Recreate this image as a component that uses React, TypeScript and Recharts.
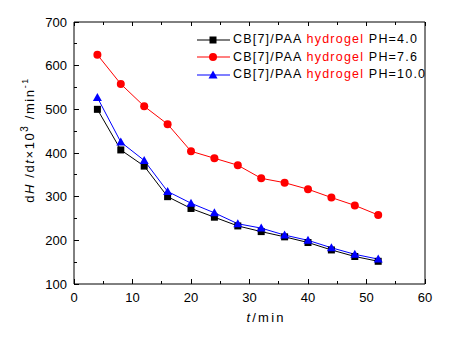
import { LineChart, Line, XAxis, YAxis, Label } from 'recharts';

const times = [4, 8, 12, 16, 20, 24, 28, 32, 36, 40, 44, 48, 52];
const ph40 = [500, 407, 370, 300, 273, 253, 233, 220, 208, 195, 178, 163, 152];
const ph76 = [625, 558, 507, 466, 404, 388, 372, 342, 332, 317, 298, 280, 258];
const ph100 = [527, 425, 383, 312, 285, 263, 238, 228, 212, 200, 183, 168, 157];

const xTicks = [0, 5, 10, 15, 20, 25, 30, 35, 40, 45, 50, 55, 60];
const yTicks = [100, 150, 200, 250, 300, 350, 400, 450, 500, 550, 600, 650, 700];

const data = times.map((t, i) => ({ t, ph40: ph40[i], ph76: ph76[i], ph100: ph100[i] }));

const series = [
  { key: 'ph40', color: '#000000', shape: 'square', ph: 'PH=4.0' },
  { key: 'ph76', color: '#ff0000', shape: 'circle', ph: 'PH=7.6' },
  { key: 'ph100', color: '#0000ff', shape: 'triangle', ph: 'PH=10.0' },
];

const tickFont = '"Liberation Sans", Arial, sans-serif';

function Marker({ cx, cy, shape, color }: any) {
  if (cx == null || cy == null) return null;
  if (shape === 'square') return <rect x={cx - 3.5} y={cy - 3.5} width={7} height={7} fill={color} />;
  if (shape === 'circle') return <circle cx={cx} cy={cy} r={4} fill={color} />;
  return <polygon points={`${cx},${cy - 4.5} ${cx - 4.5},${cy + 3.5} ${cx + 4.5},${cy + 3.5}`} fill={color} />;
}

function BottomTick({ x, y, payload }: any) {
  const major = payload.value % 10 === 0;
  return (
    <g>
      <path d={`M${x},${y}V${y - (major ? 5 : 3)}`} stroke="#000" strokeWidth={1} fill="none" shapeRendering="crispEdges" />
      {major && (
        <text x={x} y={y + 18} textAnchor="middle" fontSize={13} fill="#000" fontFamily={tickFont}>
          {payload.value}
        </text>
      )}
    </g>
  );
}

function TopTick({ x, y, payload }: any) {
  const major = payload.value % 10 === 0;
  return <path d={`M${x},${y}V${y + (major ? 4 : 3)}`} stroke="#000" strokeWidth={1} fill="none" shapeRendering="crispEdges" />;
}

function LeftTick({ x, y, payload }: any) {
  const major = payload.value % 100 === 0;
  return (
    <g>
      <path d={`M${x},${y}H${x + (major ? 5 : 3)}`} stroke="#000" strokeWidth={1} fill="none" shapeRendering="crispEdges" />
      {major && (
        <text x={x - 7} y={y + 4.5} textAnchor="end" fontSize={13} fill="#000" fontFamily={tickFont}>
          {payload.value}
        </text>
      )}
    </g>
  );
}

function YTitle({ viewBox }: any) {
  const cx = 26;
  const cy = viewBox.y + viewBox.height / 2 - 13;
  return (
    <text
      x={cx}
      y={cy}
      transform={`rotate(-90, ${cx}, ${cy})`}
      textAnchor="middle"
      fontSize={13}
      letterSpacing={1.6}
      fontFamily={tickFont}
      fill="#000"
    >
      d<tspan fontStyle="italic">H</tspan> /d<tspan fontStyle="italic">t</tspan>×10
      <tspan dy={-6} fontSize={10}>3</tspan>
      <tspan dy={6}> /min</tspan>
      <tspan dy={-6} fontSize={9}>-1</tspan>
    </text>
  );
}

function XTitle({ viewBox }: any) {
  const x = viewBox.x + viewBox.width / 2 - 3;
  return (
    <text x={x} y={viewBox.y + 38} textAnchor="start" fontSize={13} letterSpacing={2.2} fontFamily={tickFont} fill="#000">
      <tspan fontStyle="italic">t</tspan>/min
    </text>
  );
}

function LegendBox() {
  return (
    <div
      style={{
        position: 'absolute',
        top: 23,
        left: 189,
        fontFamily: tickFont,
        fontSize: 12.5,
        letterSpacing: 1.2,
        lineHeight: '17.5px',
      }}
    >
      {series.map((s) => (
        <div key={s.key} style={{ display: 'flex', alignItems: 'center', height: 17.5 }}>
          <svg width={34} height={12} style={{ marginRight: 2 }}>
            <line x1={0} x2={33} y1={6} y2={6} stroke={s.color} strokeWidth={1.2} />
            <Marker cx={16} cy={6} shape={s.shape} color={s.color} />
          </svg>
          <span style={{ color: '#000', whiteSpace: 'pre' }}>
            CB[7]/PAA <span style={{ color: '#ff0000' }}>hydrogel</span> {s.ph}
          </span>
        </div>
      ))}
    </div>
  );
}

export default function App() {
  return (
    <div style={{ position: 'relative', width: 445, height: 331 }}>
      <LineChart width={445} height={331} data={data} margin={{ top: 13, right: 27, bottom: 25, left: 26 }}>
        <XAxis
          xAxisId="b"
          dataKey="t"
          type="number"
          domain={[0, 60]}
          ticks={xTicks}
          interval={0}
          height={30}
          tickSize={0}
          tickMargin={0}
          tickLine={false}
          tick={<BottomTick />}
          axisLine={{ stroke: '#000' }}
        >
          <Label content={<XTitle />} />
        </XAxis>
        <XAxis
          xAxisId="top"
          orientation="top"
          type="number"
          dataKey="t"
          domain={[0, 60]}
          ticks={xTicks}
          interval={0}
          height={1}
          tickSize={0}
          tickMargin={0}
          tickLine={false}
          tick={<TopTick />}
          axisLine={{ stroke: '#000' }}
        />
        <YAxis
          yAxisId="l"
          type="number"
          domain={[100, 700]}
          ticks={yTicks}
          interval={0}
          width={40}
          tickSize={0}
          tickMargin={0}
          tickLine={false}
          tick={<LeftTick />}
          axisLine={{ stroke: '#000' }}
        >
          <Label content={<YTitle />} />
        </YAxis>
        <YAxis
          yAxisId="r"
          orientation="right"
          type="number"
          domain={[100, 700]}
          width={1}
          tick={false}
          tickLine={false}
          axisLine={{ stroke: '#000' }}
        />
        {/* invisible series so the top and right frame axes are drawn */}
        <Line xAxisId="top" yAxisId="r" dataKey="ph40" stroke="none" dot={false} activeDot={false} isAnimationActive={false} legendType="none" />
        {series.map((s) => (
          <Line
            key={s.key}
            xAxisId="b"
            yAxisId="l"
            dataKey={s.key}
            stroke={s.color}
            strokeWidth={1}
            type="linear"
            isAnimationActive={false}
            dot={(p: any) => <Marker key={`${s.key}-${p.index}`} cx={p.cx} cy={p.cy} shape={s.shape} color={s.color} />}
            activeDot={false}
          />
        ))}
      </LineChart>
      <LegendBox />
    </div>
  );
}
